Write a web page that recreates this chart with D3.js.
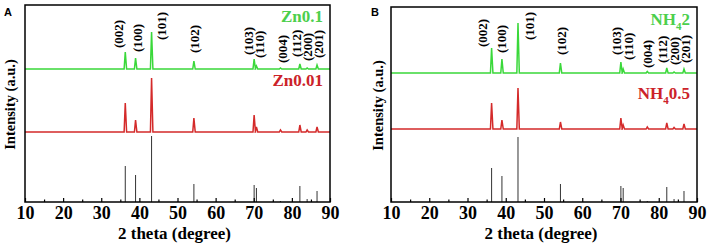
<!DOCTYPE html>
<html><head><meta charset="utf-8">
<script src="https://cdn.jsdelivr.net/npm/d3@7"></script>
<style>
html,body{margin:0;padding:0;background:#fff;}
svg{display:block;}
</style></head>
<body><svg id="c" width="708" height="246"></svg>
<script>
// ---- data ----
const hkl = ["(002)","(100)","(101)","(102)","(103)","(110)","(004)","(112)","(200)","(201)"];
const peakPos = [36.3, 39.0, 43.2, 54.3, 70.1, 70.7, 77.0, 82.1, 84.0, 86.6];
const xTicks = [10,20,30,40,50,60,70,80,90];
const xMinor = [15,25,35,45,55,65,75,85];

// panel A
const stickA = [36, 27, 66, 18, 17, 14, 1, 16, 3, 11];
const zn01   = [17, 11, 37, 8, 10, 3, 1, 5, 1, 4];
const zn001  = [29, 12, 54, 14, 17, 5, 2, 7, 2, 5];
const offsetA = [133, 70];        // stacking offsets (a.u.) green, red
// panel B
const stickB = [34, 26, 65, 18, 16, 14, 1, 15, 3, 11];
const nh2    = [25, 14, 50, 10, 11, 4, 1.5, 5, 1, 4];
const nh05   = [26, 9, 41, 7, 11, 4, 2, 6, 1.5, 5];
const offsetB = [129, 73];

// label positions (2theta, a.u.)
const labXA = [34.4, 39.4, 45.9, 54.5, 68.5, 71.5, 77.6, 81.2, 84.2, 87.1];
const labYA = [154, 150, 162, 149, 147, 144, 139, 145, 141, 144];
const labXB = [33.8, 38.8, 46.1, 54.5, 68.9, 72.2, 77.1, 81.1, 84.0, 87.1];
const labYB = [155, 149, 162, 147, 147, 142, 134, 139, 137, 139];

const GREEN = "#3ad83a", RED = "#d42a2a", GREENT = "#4ccf4c", REDT = "#cc2229";
const SERIF = "'Liberation Serif','Times New Roman',serif";

const svg = d3.select("#c");

function serif(sel, size){
  return sel.style("font-family",SERIF).style("font-weight","bold").style("font-size",size+"px");
}

function panel(o){
  const g = svg.append("g");
  const x = d3.scaleLinear().domain([10,90]).range([o.left,o.right]);
  const y = d3.scaleLinear().domain([0,o.ymax]).range([o.bottom,o.top]);
  const clipId = "clip"+o.letter;
  svg.append("clipPath").attr("id",clipId).append("rect")
    .attr("x",o.left).attr("y",o.top).attr("width",o.right-o.left).attr("height",o.bottom-o.top);

  const line = d3.line().x(d=>x(d[0])).y(d=>y(d[1]));
  function pts(h, off){
    const a=[[10,off]];
    peakPos.forEach((p,i)=>{a.push([p-0.3,off],[p,off+h[i]],[p+0.35,off]);});
    a.push([90,off]);
    return a;
  }
  const cg = g.append("g").attr("clip-path","url(#"+clipId+")");
  // sticks
  cg.selectAll(".stick").data(peakPos).join("line")
    .attr("x1",d=>x(d)).attr("x2",d=>x(d))
    .attr("y1",y(0)).attr("y2",(d,i)=>y(o.stick[i]))
    .attr("stroke","#333").attr("stroke-width",1);
  cg.append("path").attr("d",line(pts(o.red,o.off[1]))).attr("fill","none")
    .attr("stroke",RED).attr("stroke-width",1.5);
  cg.append("path").attr("d",line(pts(o.green,o.off[0]))).attr("fill","none")
    .attr("stroke",GREEN).attr("stroke-width",1.5);

  // frame
  g.append("rect").attr("x",o.left).attr("y",o.top).attr("width",o.right-o.left)
    .attr("height",o.bottom-o.top).attr("fill","none").attr("stroke","#000").attr("stroke-width",1.5);

  // axes
  const ax = g.append("g").attr("transform",`translate(0,${o.bottom})`)
    .call(d3.axisBottom(x).tickValues(xTicks).tickSizeInner(-4).tickSizeOuter(0).tickPadding(8).tickFormat(d3.format("d")));
  ax.select(".domain").remove();
  ax.selectAll(".tick line").attr("stroke","#000").attr("stroke-width",1.2);
  serif(ax.selectAll(".tick text"),18).attr("fill","#000").attr("dy",null).attr("y",17);
  const mx = g.append("g").attr("transform",`translate(0,${o.bottom})`)
    .call(d3.axisBottom(x).tickValues(xMinor).tickSizeInner(-2.5).tickSizeOuter(0).tickFormat(""));
  mx.select(".domain").remove();
  mx.selectAll(".tick line").attr("stroke","#000").attr("stroke-width",1.2);

  // axis titles
  serif(g.append("text"),17).attr("x",(o.left+o.right)/2-3).attr("y",239).attr("text-anchor","middle")
    .text("2 theta (degree)");
  serif(g.append("text"),14.5).attr("transform",`translate(${o.ylabX},${(o.top+o.bottom)/2+1}) rotate(-90)`)
    .attr("text-anchor","middle").text("Intensity (a.u.)");

  // peak labels
  serif(g.selectAll(".hkl").data(hkl).join("text"),13)
    .attr("transform",(d,i)=>`translate(${x(o.labX[i])+4.5},${y(o.labY[i])}) rotate(-90)`)
    .attr("fill","#000").text(d=>d);

  // series labels
  const t1 = serif(g.append("text"),17).attr("x",o.right-7).attr("y",o.gY).attr("text-anchor","end")
    .attr("fill",GREENT);
  o.gText(t1);
  const t2 = serif(g.append("text"),17).attr("x",o.right-7).attr("y",o.rY).attr("text-anchor","end")
    .attr("fill",REDT);
  o.rText(t2);

  // panel letter
  svg.append("text").attr("x",o.letterX).attr("y",16)
    .style("font-family","'Liberation Sans',Arial,sans-serif").style("font-weight","bold")
    .style("font-size","11px").attr("fill","#000").text(o.letter);
}

function sub(t, main, s, rest){
  t.append("tspan").text(main);
  t.append("tspan").style("font-size","11px").attr("dy",5).text(s);
  t.append("tspan").attr("dy",-5).text(rest);
}

panel({letter:"A", letterX:4, left:25, right:330, top:5, bottom:202, ymax:197,
  stick:stickA, green:zn01, red:zn001, off:offsetA, labX:labXA, labY:labYA, ylabX:15,
  gY:22, rY:86,
  gText:t=>t.text("Zn0.1"), rText:t=>t.text("Zn0.01")});

panel({letter:"B", letterX:371, left:391, right:697, top:7, bottom:202, ymax:195,
  stick:stickB, green:nh2, red:nh05, off:offsetB, labX:labXB, labY:labYB, ylabX:383,
  gY:25, rY:99,
  gText:t=>sub(t,"NH","4","2"),
  rText:t=>sub(t,"NH","4","0.5")
});
</script></body></html>
